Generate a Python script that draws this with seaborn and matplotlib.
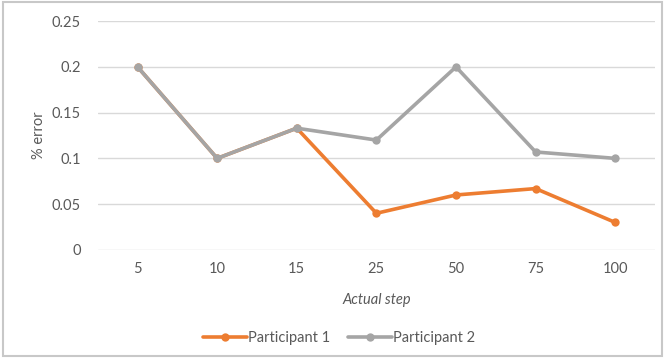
import matplotlib
matplotlib.use("Agg")
import matplotlib.pyplot as plt
import seaborn as sns
import pandas as pd
from matplotlib.patches import Rectangle

steps = ["5", "10", "15", "25", "50", "75", "100"]
participant_1 = [0.2, 0.1, 0.133, 0.04, 0.06, 0.067, 0.03]
participant_2 = [0.2, 0.1, 0.133, 0.12, 0.2, 0.107, 0.1]
series_names = ["Participant 1", "Participant 2"]
y_ticks = [0, 0.05, 0.1, 0.15, 0.2, 0.25]
y_tick_labels = ["0", "0.05", "0.1", "0.15", "0.2", "0.25"]

df = pd.DataFrame({
    "step": steps * 2,
    "error": participant_1 + participant_2,
    "series": [series_names[0]] * len(steps) + [series_names[1]] * len(steps),
})

sns.set_theme(style="white")
plt.rcParams["font.family"] = ["Lato", "DejaVu Sans"]
text_color = "#595959"

fig = plt.figure(figsize=(6.65, 3.58), dpi=100)
ax = fig.add_axes([0.147, 0.302, 0.838, 0.639])

sns.lineplot(
    data=df, x="step", y="error", hue="series", hue_order=series_names,
    palette=["#ED7D31", "#A5A5A5"], marker="o", markersize=6,
    markeredgewidth=0, linewidth=2.6, sort=False, ax=ax,
)

ax.set_xlim(-0.5, len(steps) - 0.5)
ax.set_ylim(0, 0.25)
ax.set_yticks(y_ticks)
ax.set_yticklabels(y_tick_labels)
ax.yaxis.grid(True, color="#d9d9d9", linewidth=1)
ax.set_axisbelow(True)
for s in ax.spines.values():
    s.set_visible(False)
ax.tick_params(axis="both", length=0, labelsize=10.5, colors=text_color, pad=12)
ax.tick_params(axis="x", pad=9)

ax.set_xlabel("Actual step", fontsize=10.5, style="italic", color=text_color, labelpad=12)
ax.set_ylabel("% error", fontsize=10.5, color=text_color, labelpad=4)

leg = ax.legend(
    loc="center", bbox_to_anchor=(0.51, 0.056), bbox_transform=fig.transFigure,
    ncol=2, frameon=False, fontsize=10.5, handlelength=3.0, columnspacing=1.2,
    handletextpad=0.1,
)
for t in leg.get_texts():
    t.set_color(text_color)

fig.patches.append(Rectangle((0.004, 0.006), 0.992, 0.988, transform=fig.transFigure,
                             fill=False, edgecolor="#c8c8c8", linewidth=1.5))

fig.savefig("out.png", dpi=100)
